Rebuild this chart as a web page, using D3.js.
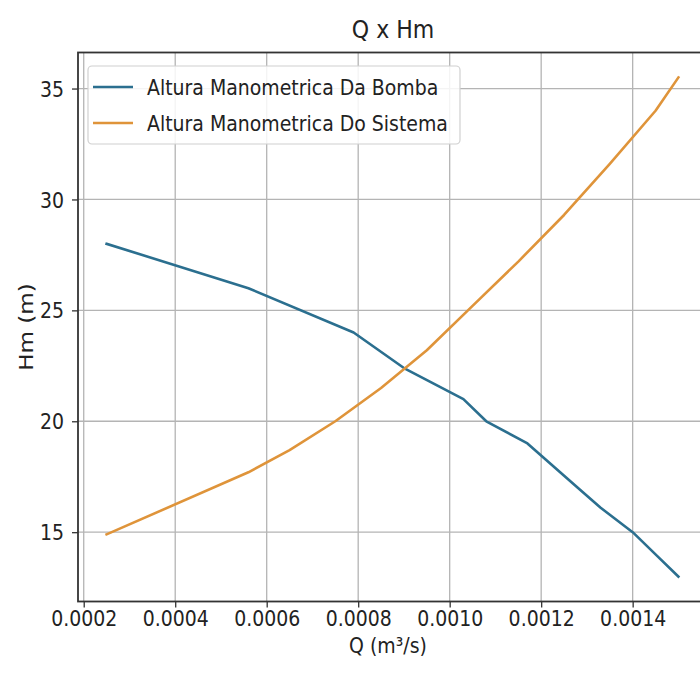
<!DOCTYPE html>
<html><head><meta charset="utf-8">
<script src="https://cdn.jsdelivr.net/npm/d3@7"></script>
<style>
html,body{margin:0;padding:0;background:#fff;}
svg{display:block;}
text{font-family:"DejaVu Sans",sans-serif;fill:#222;}
</style></head>
<body><svg id="c" width="700" height="676"></svg>
<script>
// ---- data ----
const qBomba = [0.00025, 0.00056, 0.00079, 0.0009, 0.00103, 0.00108, 0.00117, 0.00128, 0.00133, 0.0014, 0.00145, 0.0015];
const hBomba = [28, 26, 24, 22.4, 21, 20, 19, 17, 16.1, 15, 14, 13];
const qSistema = [0.00025, 0.00056, 0.00065, 0.00075, 0.00085, 0.00095, 0.00105, 0.00115, 0.00125, 0.00135, 0.00145, 0.0015];
const hSistema = [14.9, 17.7, 18.7, 20.0, 21.5, 23.2, 25.2, 27.2, 29.3, 31.6, 34.0, 35.5];
const xTicks = [0.0002, 0.0004, 0.0006, 0.0008, 0.0010, 0.0012, 0.0014];
const yTicks = [15, 20, 25, 30, 35];
const seriesNames = ["Altura Manometrica Da Bomba", "Altura Manometrica Do Sistema"];
const colors = ["#2b6f8f", "#df943a"];
const title = "Q x Hm";
const xLabel = "Q (m³/s)";
const yLabel = "Hm (m)";

// ---- layout ----
const L = 78, T = 52.5, W = 629, H = 549;
const SX = 0.9; // horizontal text compression
const svg = d3.select("#c");

const allQ = qBomba.concat(qSistema), allH = hBomba.concat(hSistema);
const [qmin, qmax] = d3.extent(allQ), [hmin, hmax] = d3.extent(allH);
const qp = (qmax - qmin) * 0.05, hp = (hmax - hmin) * 0.05;
const x = d3.scaleLinear().domain([qmin - qp, qmax + qp]).range([L, L + W]);
const y = d3.scaleLinear().domain([hmin - hp, hmax + hp]).range([T + H, T]);

// grid
const g = svg.append("g");
g.selectAll(".gx").data(xTicks).join("line")
  .attr("x1", d => x(d)).attr("x2", d => x(d)).attr("y1", T).attr("y2", T + H)
  .attr("stroke", "#b4b4b4").attr("stroke-width", 1.3);
g.selectAll(".gy").data(yTicks).join("line")
  .attr("x1", L).attr("x2", L + W).attr("y1", d => y(d)).attr("y2", d => y(d))
  .attr("stroke", "#b4b4b4").attr("stroke-width", 1.3);

// lines
const line = d3.line().x(d => x(d[0])).y(d => y(d[1]));
const dataB = qBomba.map((q, i) => [q, hBomba[i]]);
const dataS = qSistema.map((q, i) => [q, hSistema[i]]);
[dataB, dataS].forEach((d, i) => {
  svg.append("path").datum(d).attr("d", line).attr("fill", "none")
    .attr("stroke", colors[i]).attr("stroke-width", 2.6)
    .attr("stroke-linejoin", "round").attr("stroke-linecap", "square");
});

// axes
const fs = 21;
const xAxis = svg.append("g").attr("transform", `translate(0,${T + H})`)
  .call(d3.axisBottom(x).tickValues(xTicks).tickFormat(d3.format(".4f")).tickSizeOuter(0).tickSize(6).tickPadding(4));
const yAxis = svg.append("g").attr("transform", `translate(${L},0)`)
  .call(d3.axisLeft(y).tickValues(yTicks).tickSizeOuter(0).tickSize(6).tickPadding(8));
[xAxis, yAxis].forEach(a => {
  a.select(".domain").remove();
  a.selectAll(".tick line").attr("stroke", "#333").attr("stroke-width", 1.3);
  a.selectAll(".tick text").attr("font-size", fs).attr("font-family", "DejaVu Sans").attr("fill", "#222");
});
xAxis.selectAll(".tick text").attr("transform", `scale(${SX},1)`);
yAxis.selectAll(".tick text").attr("transform", `scale(${SX},1)`).attr("x", -14 / SX).attr("dy", "0.36em");

// spines
svg.append("rect").attr("x", L).attr("y", T).attr("width", W).attr("height", H)
  .attr("fill", "none").attr("stroke", "#333").attr("stroke-width", 1.8);

// text helper
function txt(s, px, py, size, anchor, rot, sx, sy) {
  const t = svg.append("text").text(s).attr("font-size", size).attr("text-anchor", anchor || "middle");
  t.attr("transform", `translate(${px},${py})` + (rot ? ` rotate(${rot})` : "") + ` scale(${sx || SX},${sy || 1})`);
  return t;
}
txt(title, 393, 38, 24.5);
txt(xLabel, 388, 653, fs);
txt(yLabel, 33, T + H / 2, 22, "middle", -90, 1.05, 0.9);

// legend
const lg = svg.append("g");
lg.append("rect").attr("x", 88).attr("y", 66).attr("width", 372).attr("height", 78).attr("rx", 4)
  .attr("fill", "#fff").attr("fill-opacity", 0.85).attr("stroke", "#d0d0d0").attr("stroke-width", 1.2);
seriesNames.forEach((n, i) => {
  const yy = 87 + i * 36;
  lg.append("line").attr("x1", 93).attr("x2", 133).attr("y1", yy).attr("y2", yy)
    .attr("stroke", colors[i]).attr("stroke-width", 2.6);
  txt(n, 147, yy + 7.5, fs, "start");
});
</script></body></html>
